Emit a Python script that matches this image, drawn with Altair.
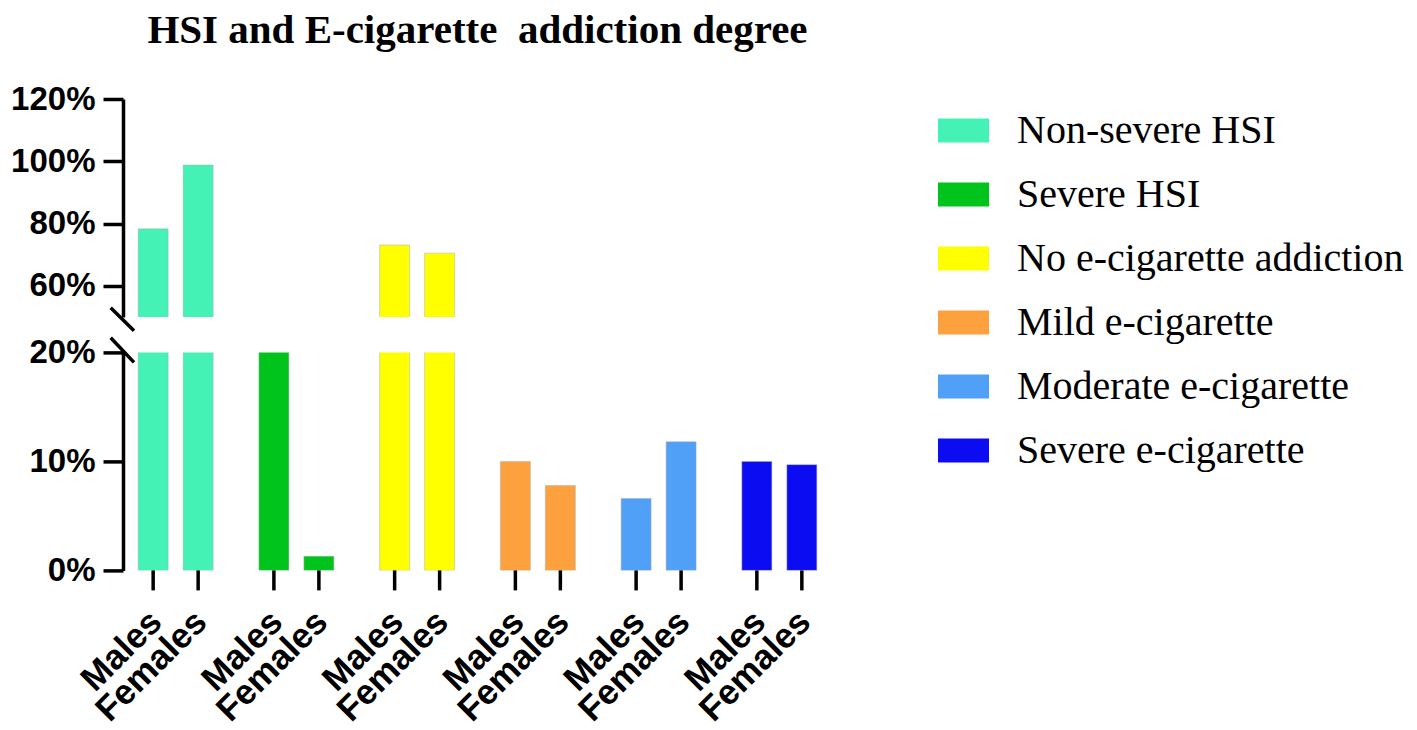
import altair as alt
import pandas as pd

categories = ["Non-severe HSI", "Severe HSI", "No e-cigarette addiction",
              "Mild e-cigarette", "Moderate e-cigarette", "Severe e-cigarette"]
sexes = ["Males", "Females"]
males = [78.3, 21.7, 73.1, 10.0, 6.6, 10.0]
females = [98.8, 1.3, 70.5, 7.8, 11.8, 9.7]
colors = ["#44F2B6", "#00C41C", "#FFFF00", "#FDA03E", "#50A0F8", "#0C0CF2"]
upper_ticks = [60, 80, 100, 120]
lower_ticks = [0, 10, 20]
title_text = "HSI and E-cigarette\u00a0 addiction degree"

rows = []
for c, m, f in zip(categories, males, females):
    rows.append({"category": c, "sex": "Males", "value": m})
    rows.append({"category": c, "sex": "Females", "value": f})
df = pd.DataFrame(rows)
deco = pd.DataFrame({"a": [0]})

PW = 709
PH = 218
AX_W = 3.5

x_enc = alt.X("category:N", sort=categories,
              scale=alt.Scale(paddingInner=0.379, paddingOuter=0.1256), axis=None)
x_enc_axis = alt.X("category:N", sort=categories,
                   scale=alt.Scale(paddingInner=0.379, paddingOuter=0.1256),
                   axis=alt.Axis(labels=False, ticks=False, domain=True, title=None,
                                 domainWidth=AX_W, domainColor="black"))
xo_enc = alt.XOffset("sex:N", sort=sexes,
                     scale=alt.Scale(paddingInner=1/3, paddingOuter=0))
color_enc = alt.Color("category:N", sort=categories,
                      scale=alt.Scale(domain=categories, range=colors),
                      legend=alt.Legend(
                          title=None, orient="none", legendX=815, legendY=6,
                          symbolType="M-1,-0.47L1,-0.47L1,0.47L-1,0.47Z",
                          symbolSize=2601, symbolStrokeWidth=0,
                          labelFont="Liberation Serif", labelFontSize=40,
                          labelColor="black", labelLimit=700, labelOffset=28,
                          rowPadding=18, padding=0))

def y_axis(ticks):
    return alt.Axis(values=ticks, labelExpr="datum.value + '%'", title=None, grid=False,
                    domainWidth=AX_W, tickWidth=AX_W, tickSize=20, labelPadding=8,
                    domainColor="black", tickColor="black", labelColor="black",
                    labelFont="Liberation Sans", labelFontWeight="bold", labelFontSize=33)

bar_kw = dict(clip=True, stroke="#b0b0b0", strokeWidth=1, strokeOpacity=0.5)

upper_bars = alt.Chart(df).mark_bar(**bar_kw).encode(
    x=x_enc, xOffset=xo_enc,
    y=alt.Y("value:Q", scale=alt.Scale(domain=[50, 120], zero=False, nice=False),
            axis=y_axis(upper_ticks)),
    color=color_enc,
)
upper_break = alt.Chart(deco).mark_rule(color="black", strokeWidth=AX_W).encode(
    x=alt.value(-12.3), x2=alt.value(11), y=alt.value(208.7), y2=alt.value(231.7))

upper = alt.layer(upper_bars, upper_break).properties(
    width=PW, height=PH,
    title=alt.Title(title_text, font="Liberation Serif", fontSize=41, fontWeight="bold",
                    color="black", anchor="middle", offset=31))

lower_bars = alt.Chart(df).mark_bar(**bar_kw).encode(
    x=x_enc_axis, xOffset=xo_enc,
    y=alt.Y("value:Q", scale=alt.Scale(domain=[0, 20], nice=False),
            axis=y_axis(lower_ticks)),
    color=color_enc,
)
lower_ticks_marks = alt.Chart(df).mark_rule(color="black", strokeWidth=AX_W).encode(
    x=x_enc, xOffset=xo_enc, y=alt.value(PH), y2=alt.value(PH + 20))
lower_labels = alt.Chart(df).mark_text(
    angle=315, align="right", baseline="middle", font="Liberation Sans",
    fontWeight="bold", fontSize=35, color="black", dx=2, dy=2).encode(
    x=x_enc, xOffset=xo_enc, y=alt.value(PH + 46), text="sex:N")
lower_break = alt.Chart(deco).mark_rule(color="black", strokeWidth=AX_W).encode(
    x=alt.value(-12.3), x2=alt.value(11), y=alt.value(-14.7), y2=alt.value(10))

lower = alt.layer(lower_bars, lower_ticks_marks, lower_labels, lower_break).properties(
    width=PW, height=PH)

chart = alt.vconcat(upper, lower, spacing=35.4, bounds="flush").resolve_scale(
    y="independent", color="shared").properties(
    padding={"left": 2, "top": 2, "right": 5, "bottom": 0}
).configure_view(stroke=None)

chart.save("out.html", embed_options={"renderer": "svg", "actions": False})
